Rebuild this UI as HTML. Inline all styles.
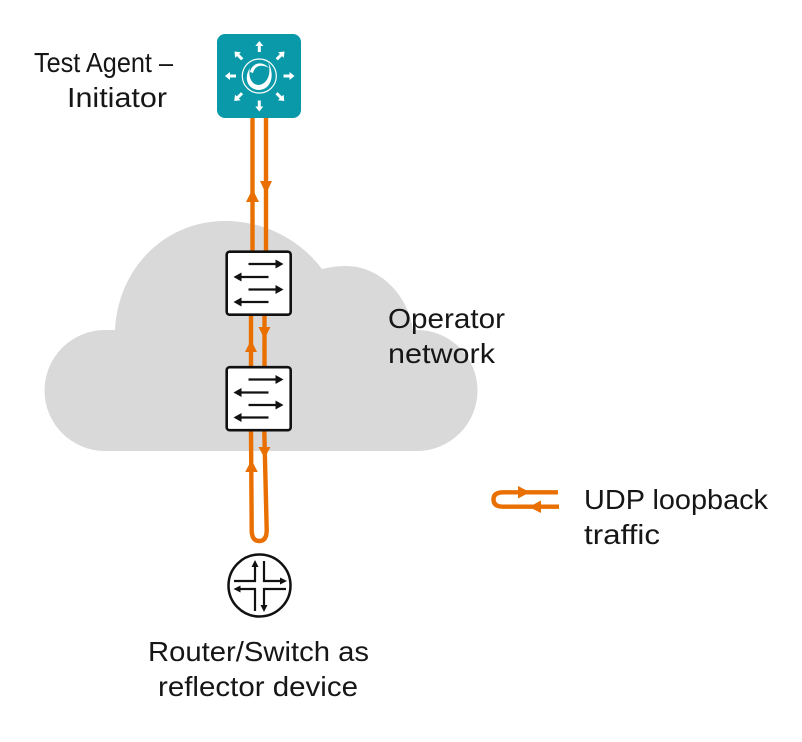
<!DOCTYPE html>
<html><head><meta charset="utf-8"><style>html,body{margin:0;padding:0;background:#fff}svg{display:block}text{font-family:"Liberation Sans",sans-serif;font-size:28px;fill:#161616}</style></head><body>
<svg width="802" height="742" viewBox="0 0 802 742" xmlns="http://www.w3.org/2000/svg">
<defs>
<g id="sw">
<rect x="1.2" y="1.2" width="64" height="63" rx="3" fill="#fff" stroke="#111" stroke-width="2.6"/>
<g stroke="#111" stroke-width="2.300" fill="#111">
<path d="M23 13.500H52" fill="none"/><path d="M50 9L58 13.500L50 18Z" stroke="none"/>
<path d="M14 26.500H43" fill="none"/><path d="M16 22L8 26.500L16 31Z" stroke="none"/>
<path d="M23 39H52" fill="none"/><path d="M50 34.500L58 39L50 43.500Z" stroke="none"/>
<path d="M14 51.500H43" fill="none"/><path d="M16 47L8 51.500L16 56Z" stroke="none"/>
</g>
</g>
<path id="wa" d="M-1.500 11V5H-4L0 0L4 5H1.500V11Z" fill="#fff"/>
</defs>
<path fill="#d9d9d9" d="M105 451A60.500 60.500 0 0 1 105 330L115 330C118 268 165 221 225 221C265 221 300 240 322 269C330 267 338 266 346 266C380 266 408 295 413 330L417 330A60.500 60.500 0 0 1 417 451Z"/>
<g stroke="#e86f00" stroke-width="4.400" fill="none">
<path d="M252.500 118V251"/><path d="M266 118V251"/>
<path d="M251 315V366"/><path d="M264.500 315V366"/>
<path d="M251 431L251.700 530Q251.700 541 259.300 541Q266.700 541 266.700 530L264.300 431"/>
<path d="M558 492.300H503Q493.500 492.300 493.500 499.500Q493.500 506.700 503 506.700H559"/>
</g>
<g fill="#e86f00">
<path d="M252.500 189L259 202H246Z"/><path d="M260 181H272L266 194Z"/>
<path d="M251 340L257 352H245Z"/><path d="M258.500 327H270.500L264.500 339Z"/>
<path d="M251.500 460L257.800 472H245.200Z"/><path d="M258.500 447H270.500L264.500 458Z"/>
<path d="M518 486L530 492.300L518 498.500Z"/><path d="M541 500.500L529 507L541 513Z"/>
</g>
<use href="#sw" x="225.500" y="250.500"/>
<use href="#sw" x="225.500" y="366"/>
<rect x="217" y="34" width="84" height="84" rx="8" fill="#0a99a8"/>
<g>
<use href="#wa" transform="translate(259.300 41)"/>
<use href="#wa" transform="translate(259.300 111.500) rotate(180)"/>
<use href="#wa" transform="translate(225 76) rotate(-90)"/>
<use href="#wa" transform="translate(294.500 76) rotate(90)"/>
<use href="#wa" transform="translate(234.500 51.500) rotate(-45)"/>
<use href="#wa" transform="translate(284.500 51.500) rotate(45)"/>
<use href="#wa" transform="translate(234.300 101) rotate(-135)"/>
<use href="#wa" transform="translate(284.300 101) rotate(135)"/>
</g>
<circle cx="259.300" cy="76" r="17" fill="none" stroke="#fff" stroke-width="1.200"/>
<path fill="#fff" d="M250 68C243 78 248 90 259 90C270 90 276 76 268 62C272 74 267 84 259 85C251 85 248 76 250 68Z"/>
<path fill="#fff" d="M250 72C252 63 262 60 269 68C262 64 255 65 253 73Z"/>
<circle cx="259.500" cy="585.500" r="31" fill="#fff" stroke="#111" stroke-width="2.500"/>
<g fill="none" stroke="#111" stroke-width="2.200">
<path d="M234 581H255V564"/><path d="M264 561V581H284"/>
<path d="M238 589H255V611"/><path d="M264 608V589H286"/>
</g>
<g fill="#111">
<path d="M255 560L258.500 567H251.500Z"/><path d="M287 581L280 577.500V584.500Z"/>
<path d="M233.500 589L240.500 585.500V592.500Z"/><path d="M264 612L260.500 605H267.500Z"/>
</g>
<text x="34" y="72" textLength="139" lengthAdjust="spacingAndGlyphs">Test Agent –</text>
<text x="67" y="107" textLength="100" lengthAdjust="spacingAndGlyphs">Initiator</text>
<text x="388" y="328" textLength="117" lengthAdjust="spacingAndGlyphs">Operator</text>
<text x="388" y="363" textLength="107" lengthAdjust="spacingAndGlyphs">network</text>
<text x="584" y="509" textLength="184" lengthAdjust="spacingAndGlyphs">UDP loopback</text>
<text x="584" y="544" textLength="76" lengthAdjust="spacingAndGlyphs">traffic</text>
<text x="148" y="661" textLength="221" lengthAdjust="spacingAndGlyphs">Router/Switch as</text>
<text x="158" y="696" textLength="200" lengthAdjust="spacingAndGlyphs">reflector device</text>
</svg>
</body></html>
